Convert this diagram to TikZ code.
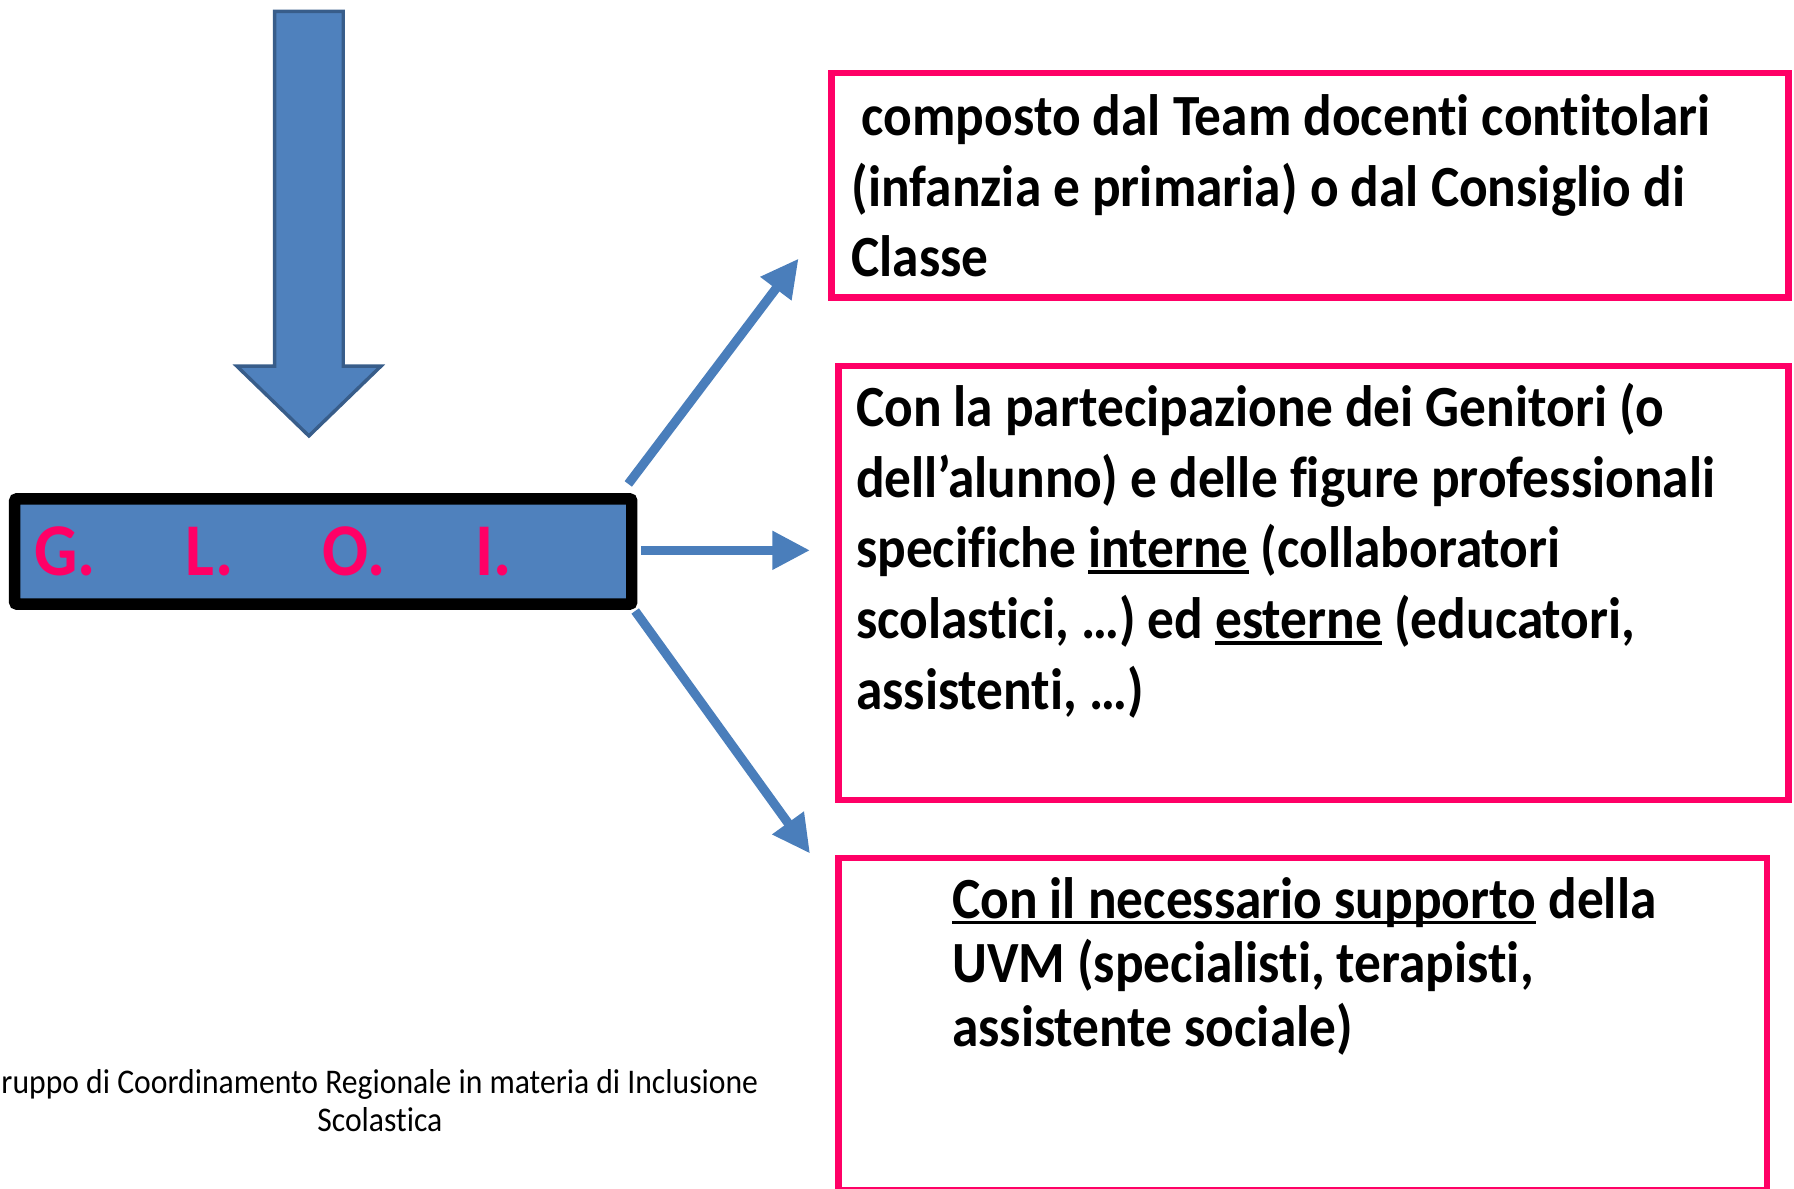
\documentclass[tikz,border=0pt]{standalone}
\usepackage{fontspec}
\setmainfont{Carlito}[FakeStretch=0.915,Ligatures=NoCommon]
\usetikzlibrary{calc,arrows.meta,positioning}
\definecolor{gloiblue}{HTML}{4F81BD}
\definecolor{gloiedge}{HTML}{385D8A}
\definecolor{linkblue}{HTML}{4A7EBB}
\definecolor{boxpink}{HTML}{FF0066}
\newcommand{\undl}[1]{\leavevmode\setbox0\hbox{#1}\rlap{\rule[-0.1em]{\wd0}{0.06em}}\copy0\relax}

\begin{document}
\begin{tikzpicture}[x=0.01cm,y=-0.01cm,
    link/.style={line width=0.08cm,linkblue,-{Triangle[length=0.33cm,width=0.32cm]}},
    pinkbox/.style={draw=boxpink,line width=0.055cm,inner sep=0pt},
    boxtext/.style={anchor=base west,inner sep=0pt,font=\fontsize{14.5}{17.6}\selectfont\bfseries}]
            \useasboundingbox (0,0) rectangle (1568,1039);

            \draw[fill=gloiblue,draw=gloiedge,line width=0.03cm] (240,10) -- (300,10) -- (300,320) -- (333,320) -- (270,381) -- (207,320) -- (240,320) -- cycle;

            \node[draw=black,fill=gloiblue,line width=0.1cm,rounded corners=0.02cm,minimum width=5.39cm,minimum height=0.92cm,
                inner xsep=0.17cm,inner ysep=0pt,text width=5.05cm,align=left,text=boxpink,
                font=\fontsize{18.5}{22}\selectfont\bfseries] (gloi) at (282.5,482) {G.\hspace{0.78cm}L.\hspace{0.78cm}O.\hspace{0.78cm}I.};

            \coordinate (t1) at (698,226);
            \coordinate (t2) at (708,481);
            \coordinate (t3) at (708,746);
            \foreach \a/\o/\t in {north east/{-8,-8}/t1,east/{3,-1}/t2,south east/{-2,1}/t3} {
                \draw[link] ($ (gloi.\a) + (\o) $) -- (\t);
            }

            \node[pinkbox,minimum width=8.36cm,minimum height=1.96cm] (box1) at (1145,162) {};
            \node[pinkbox,minimum width=8.30cm,minimum height=3.79cm] (box2) at (1148,509.5) {};
            \node[pinkbox,minimum width=8.11cm,minimum height=2.90cm] (box3) at (1138.5,895) {};

            \node[boxtext] (text1) at ($ (box1.north west) + (19.5,57) $) {\parbox[t]{9cm}{\hspace*{0.09cm}composto dal Team docenti contitolari\\(infanzia e primaria) o dal Consiglio di\\Classe}};
            \node[boxtext] (text2) at ($ (box2.north west) + (17.5,55.5) $) {\parbox[t]{9cm}{Con la partecipazione dei Genitori (o\\dell’alunno) e delle figure professionali\\specifiche \undl{interne} (collaboratori\\scolastici, …) ed \undl{esterne} (educatori,\\assistenti, …)}};
            \node[boxtext,font=\fontsize{14.5}{15.9}\selectfont\bfseries] (text3) at ($ (box3.north west) + (101.5,55.5) $) {\parbox[t]{9cm}{\undl{Con il necessario supporto} della\\UVM (specialisti, terapisti,\\assistente sociale)}};

            \node[anchor=north,inner sep=0pt,align=center,font=\fontsize{8.6}{9.4}\selectfont] (footer) at (332,934) {ruppo di Coordinamento Regionale in materia di Inclusione\\Scolastica};
        \end{tikzpicture}
\end{document}
